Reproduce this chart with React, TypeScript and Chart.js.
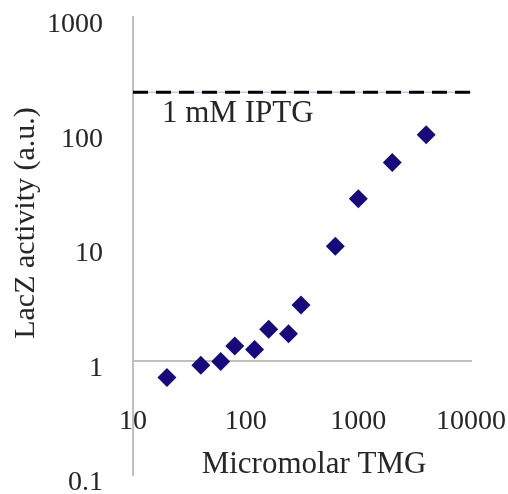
import { useEffect, useRef } from 'react';
import { Chart, registerables } from 'chart.js';

Chart.register(...registerables);

// Data
const tmgMicromolar = [20, 40, 60, 80, 120, 160, 240, 310, 625, 1000, 2000, 4000];
const lacZActivity = [0.71, 0.91, 0.98, 1.34, 1.25, 1.87, 1.71, 3.05, 9.96, 25.9, 53.7, 93.6];
const iptgLevel = 220;
const iptgRange = [10, 10000];
const iptgLabel = '1 mM IPTG';
const xTicks = [10, 100, 1000, 10000];
const yTicks = [0.1, 1, 10, 100, 1000];
const xTitle = 'Micromolar TMG';
const yTitle = 'LacZ activity (a.u.)';

const FONT = "'Liberation Serif', 'Times New Roman', serif";
const TEXT = '#262626';

const textPlugin = {
  id: 'extraText',
  afterDatasetsDraw(chart: any) {
    const { ctx, scales, chartArea } = chart;
    ctx.save();
    ctx.fillStyle = TEXT;
    // IPTG reference label, anchored to the dashed line
    ctx.font = `31px ${FONT}`;
    ctx.textAlign = 'left';
    ctx.textBaseline = 'middle';
    ctx.fillText(
      iptgLabel,
      scales.x.getPixelForValue(iptgRange[0]) + 29,
      scales.y.getPixelForValue(iptgLevel) + 22
    );
    // X axis title, near the bottom of the plot
    ctx.textAlign = 'center';
    ctx.fillText(xTitle, (chartArea.left + chartArea.right) / 2 + 12, chartArea.bottom - 10);
    // Y axis title (rotated)
    ctx.translate(26, (chartArea.top + chartArea.bottom) / 2 - 23);
    ctx.rotate(-Math.PI / 2);
    ctx.font = `30px ${FONT}`;
    ctx.fillText(yTitle, 0, 0);
    ctx.restore();
  },
};

export default function App() {
  const ref = useRef<HTMLCanvasElement | null>(null);

  useEffect(() => {
    if (!ref.current) return;
    const chart = new Chart(ref.current, {
      type: 'scatter',
      data: {
        datasets: [
          {
            type: 'line',
            data: iptgRange.map((x) => ({ x, y: iptgLevel })),
            borderColor: '#000000',
            borderWidth: 3,
            borderDash: [15, 8],
            pointRadius: 0,
            fill: false,
            order: 1,
          } as any,
          {
            type: 'line',
            data: iptgRange.map((x) => ({ x, y: iptgLevel })),
            borderColor: '#c9c9ee',
            borderWidth: 1.5,
            pointRadius: 0,
            fill: false,
            order: 2,
          } as any,
          {
            data: tmgMicromolar.map((x, i) => ({ x, y: lacZActivity[i] })),
            pointStyle: 'rectRot',
            pointRadius: 9.5,
            backgroundColor: '#170b7c',
            borderColor: '#170b7c',
            borderWidth: 0,
            order: 0,
          },
        ],
      },
      options: {
        animation: false,
        responsive: false,
        layout: { padding: { top: 17, right: 37, bottom: 19, left: 0 } },
        plugins: { legend: { display: false }, tooltip: { enabled: false } },
        scales: {
          x: {
            type: 'logarithmic',
            position: { y: 1 } as any,
            min: 10,
            max: 10000,
            afterBuildTicks: (s: any) => {
              s.ticks = xTicks.map((v) => ({ value: v }));
            },
            afterFit: (s: any) => {
              s.height = 0;
              s.paddingLeft = 0;
              s.paddingRight = 0;
              s.paddingTop = 0;
              s.paddingBottom = 0;
            },
            grid: { display: false, drawTicks: false },
            border: { display: true, color: '#c0c0c0', width: 2 },
            ticks: {
              padding: 44,
              color: TEXT,
              font: { family: FONT, size: 28 },
              maxRotation: 0,
              autoSkip: false,
              callback: (v: any) => String(v),
            },
            title: { display: false },
          },
          y: {
            type: 'logarithmic',
            min: 0.1,
            max: 1000,
            afterBuildTicks: (s: any) => {
              s.ticks = yTicks.map((v) => ({ value: v }));
            },
            afterFit: (s: any) => {
              s.width = 133;
              s.paddingTop = 0;
              s.paddingBottom = 0;
              s.paddingLeft = 0;
              s.paddingRight = 0;
            },
            grid: { display: false, drawTicks: false },
            border: { display: true, color: '#c0c0c0', width: 2 },
            ticks: {
              padding: 30,
              labelOffset: 8,
              color: TEXT,
              font: { family: FONT, size: 28 },
              autoSkip: false,
              callback: (v: any) => String(v),
            },
            title: { display: false },
          },
        },
      },
      plugins: [textPlugin],
    });
    return () => chart.destroy();
  }, []);

  return (
    <div style={{ position: 'absolute', left: 0, top: 0, width: 508, height: 494, background: '#fff' }}>
      <canvas ref={ref} width={508} height={494} />
    </div>
  );
}
